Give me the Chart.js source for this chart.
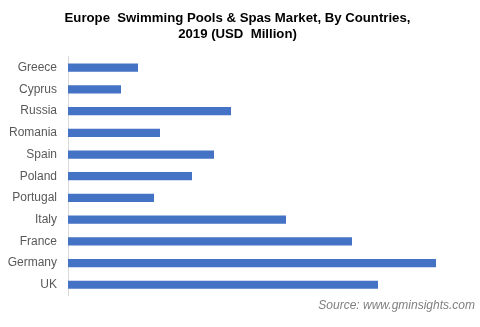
<!doctype html>
<html>
  <head>
    <title>Europe Swimming Pools & Spas Market</title>
    <script src="https://cdn.jsdelivr.net/npm/chart.js@4/dist/chart.umd.min.js"></script>
    <style>
      body { margin: 0; background: #fff; }
      #wrap { width: 480px; height: 327px; }
    </style>
  </head>
  <body>
    <div id="wrap"><canvas id="MarketChart" width="480" height="327"></canvas></div>
    <script>
    // values (relative, USD Million)
    var Countries = ['Greece', 'Cyprus', 'Russia', 'Romania', 'Spain', 'Poland', 'Portugal', 'Italy', 'France', 'Germany', 'UK'];
    var MarketValues = [70, 53, 163, 92, 146, 124, 86, 218, 284, 368, 310];
    var AxisMax = 407;

    var ctx = document.getElementById('MarketChart');
    var myChart = new Chart(ctx, {
      type: 'bar',
      data: {
        labels: Countries,
        datasets: [{
          data: MarketValues,
          backgroundColor: '#4472C4',
          barPercentage: 0.38,
          categoryPercentage: 1
        }]
      },
      options: {
        indexAxis: 'y',
        responsive: false,
        animation: false,
        layout: { padding: { left: 0, right: 5, top: 0, bottom: 0 } },
        scales: {
          x: { display: false, min: 0, max: AxisMax },
          y: {
            grid: { display: false },
            border: { display: true, color: '#d9d9d9', width: 1 },
            ticks: { color: '#595959', font: { family: 'Liberation Sans', size: 12 }, padding: 3 },
            afterFit: function(scale) { scale.width = 68; }
          }
        },
        plugins: {
          legend: { display: false },
          tooltip: { enabled: false },
          title: {
            display: true,
            text: ['Europe  Swimming Pools & Spas Market, By Countries,', '2019 (USD  Million)'],
            color: '#000',
            font: { family: 'Liberation Sans', size: 13.2, weight: 'bold', lineHeight: 1.17 },
            padding: { top: 11, bottom: 15 }
          },
          subtitle: {
            display: true,
            position: 'bottom',
            align: 'end',
            text: 'Source: www.gminsights.com',
            color: '#7f7f7f',
            font: { family: 'Liberation Sans', size: 12, style: 'italic' },
            padding: { top: 3, bottom: 14 }
          }
        }
      }
    });
    </script>
  </body>
</html>
